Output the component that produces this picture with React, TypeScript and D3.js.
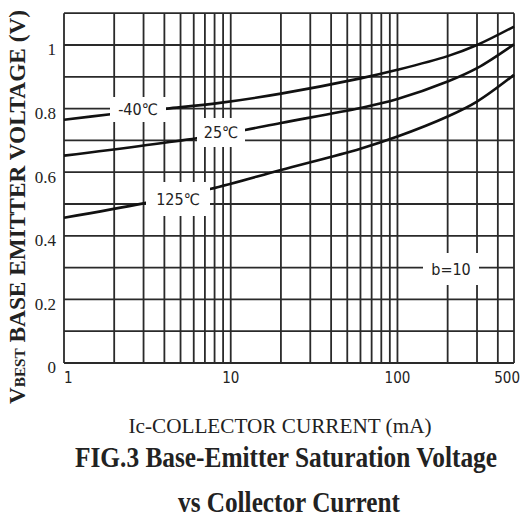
import React from "react";
import * as d3 from "d3";

const xTickValues = [1, 10, 100, 500];
const xTickLabels = ["1", "10", "100", "500"];
const yTickValues = [0, 0.2, 0.4, 0.6, 0.8, 1];
const yTickLabels = ["0", "0.2", "0.4", "0.6", "0.8", "1"];
const xGrid = [1, 2, 3, 4, 5, 6, 7, 8, 9, 10, 20, 30, 40, 50, 60, 70, 80, 90, 100, 200, 300, 400, 500];
const yGrid = [0, 0.1, 0.2, 0.3, 0.4, 0.5, 0.6, 0.7, 0.8, 0.9, 1.0, 1.1];

const currentM40 = [1, 1.9, 4.15, 8.6, 20, 60, 100, 200, 300, 500];
const vbeM40 = [0.765, 0.782, 0.8, 0.818, 0.847, 0.895, 0.922, 0.965, 1.0, 1.058];
const current25 = [1, 6.25, 12, 20, 60, 100, 200, 300, 500];
const vbe25 = [0.652, 0.707, 0.732, 0.755, 0.802, 0.83, 0.885, 0.927, 1.002];
const current125 = [1, 3, 7.5, 20, 60, 100, 200, 300, 500];
const vbe125 = [0.457, 0.502, 0.547, 0.607, 0.674, 0.712, 0.775, 0.822, 0.906];

const curveLabels = [
  { text: "-40℃", box: [110, 97, 56, 25] },
  { text: "25℃", box: [197, 118, 48, 29] },
  { text: "125℃", box: [146, 182, 64, 34] },
  { text: "b=10", box: [423, 253, 56, 32] },
];

export default function App() {
  const x = d3.scaleLog().domain([1, 500]).range([64, 514]);
  const y = d3.scaleLinear().domain([0, 1]).range([363, 45]);
  const line = d3
    .line<[number, number]>()
    .x((d) => x(d[0]))
    .y((d) => y(d[1]))
    .curve(d3.curveCatmullRom.alpha(0.5));
  const series = [
    d3.zip(currentM40, vbeM40) as [number, number][],
    d3.zip(current25, vbe25) as [number, number][],
    d3.zip(current125, vbe125) as [number, number][],
  ];
  const gridColor = "#2a2a2a";
  const serif = "'Liberation Serif', 'Times New Roman', serif";
  const cond = "'DejaVu Sans Condensed', 'Liberation Sans Narrow', 'DejaVu Sans', sans-serif";
  return (
    <svg
      width={522}
      height={522}
      style={{ position: "absolute", left: 0, top: 0, background: "#fff" }}
    >
      <rect x={0} y={0} width={522} height={522} fill="#fff" />
      {xGrid.map((v) => (
        <line
          key={"gx" + v}
          x1={x(v)}
          x2={x(v)}
          y1={y(1.1)}
          y2={y(0)}
          stroke={gridColor}
          strokeWidth={1.8}
        />
      ))}
      {yGrid.map((v) => (
        <line
          key={"gy" + v}
          x1={x(1)}
          x2={x(500)}
          y1={y(v)}
          y2={y(v)}
          stroke={gridColor}
          strokeWidth={1.8}
        />
      ))}
      {series.map((s, i) => (
        <path key={"s" + i} d={line(s) || ""} fill="none" stroke="#111" strokeWidth={2.6} />
      ))}
      {curveLabels.map((l, i) => (
        <g key={"l" + i}>
          <rect x={l.box[0]} y={l.box[1]} width={l.box[2]} height={l.box[3]} fill="#fff" />
          <text
            x={l.box[0] + l.box[2] / 2}
            y={l.box[1] + l.box[3] / 2}
            dy="0.36em"
            textAnchor="middle"
            fontFamily={cond}
            fontSize={16}
            fill="#222"
          >
            {l.text}
          </text>
        </g>
      ))}
      {yTickValues.map((v, i) => (
        <text
          key={"yt" + v}
          x={56}
          y={y(v) + 4.5}
          dy="0.35em"
          textAnchor="end"
          fontFamily={serif}
          fontSize={17}
          fill="#222"
        >
          {yTickLabels[i]}
        </text>
      ))}
      {xTickValues.map((v, i) => (
        <text
          key={"xt" + v}
          x={i === xTickValues.length - 1 ? 520 : x(v)}
          y={378}
          dy="0.36em"
          textAnchor={i === 0 ? "start" : i === xTickValues.length - 1 ? "end" : "middle"}
          fontFamily={cond}
          fontSize={15}
          fill="#222"
        >
          {xTickLabels[i]}
        </text>
      ))}
      <text
        transform="translate(25,207) rotate(-90)"
        textAnchor="middle"
        fontFamily={serif}
        fontSize={23}
        fontWeight="bold"
        fill="#222"
        textLength={394}
        lengthAdjust="spacingAndGlyphs"
      >
        V<tspan fontSize={15}>BEST</tspan> BASE  EMITTER VOLTAGE (V)
      </text>
      <text
        transform="translate(280,433) scale(1,1.1)"
        textAnchor="middle"
        fontFamily={serif}
        fontSize={20}
        fill="#222"
        textLength={303}
        lengthAdjust="spacingAndGlyphs"
      >
        Ic-COLLECTOR CURRENT (mA)
      </text>
      <text
        transform="translate(286,467) scale(1,1.15)"
        textAnchor="middle"
        fontFamily={serif}
        fontSize={25}
        fontWeight="bold"
        fill="#222"
        textLength={422}
        lengthAdjust="spacingAndGlyphs"
      >
        FIG.3 Base-Emitter Saturation Voltage
      </text>
      <text
        transform="translate(289,512) scale(1,1.15)"
        textAnchor="middle"
        fontFamily={serif}
        fontSize={25}
        fontWeight="bold"
        fill="#222"
        textLength={222}
        lengthAdjust="spacingAndGlyphs"
      >
        vs Collector Current
      </text>
    </svg>
  );
}
